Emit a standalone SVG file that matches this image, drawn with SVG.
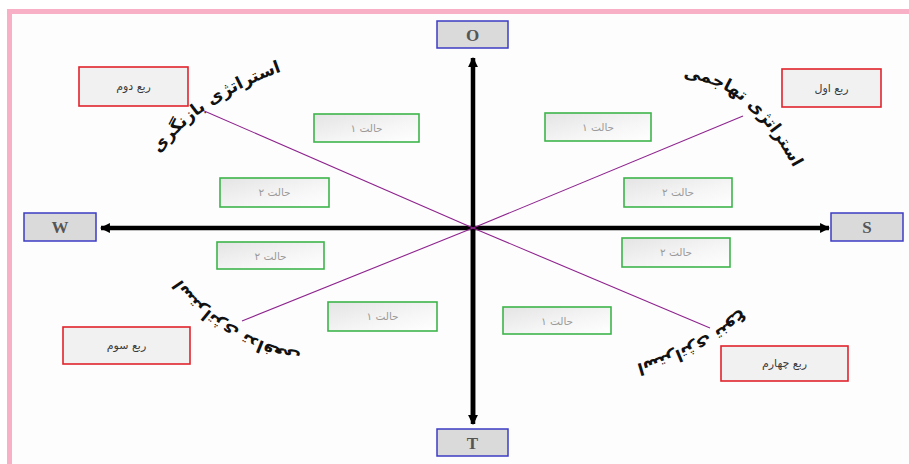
<svg xmlns="http://www.w3.org/2000/svg" width="909" height="464" viewBox="0 0 909 464">
<defs>
<style>
.ax{stroke:#000;stroke-width:4.5;fill:none}
.diag{stroke:#8e238e;stroke-width:1.1;fill:none}
.bb{fill:#dadada;stroke:#3b3bc4;stroke-width:1.5}
.bt{font-family:"Liberation Serif",serif;font-weight:bold;font-size:17px;fill:#555;text-anchor:middle}
.rb{fill:#f1f1f1;stroke:#e0232b;stroke-width:1.6}
.rt{font-family:"DejaVu Sans",sans-serif;font-size:11px;fill:#3a3a3a;text-anchor:middle;direction:rtl}
.gb{fill:url(#gg);stroke:#3db54a;stroke-width:1.6}
.gt{font-family:"DejaVu Sans",sans-serif;font-size:10.5px;fill:#9a9a9a;text-anchor:middle;direction:rtl}
.ct{font-family:"DejaVu Sans",sans-serif;font-size:17px;font-weight:bold;fill:#111;direction:rtl}
</style>
<linearGradient id="gg" x1="0" y1="0" x2="1" y2="1">
<stop offset="0" stop-color="#e4e4e4"/>
<stop offset="0.6" stop-color="#f6f6f6"/>
<stop offset="1" stop-color="#ffffff"/>
</linearGradient>
<marker id="ah" viewBox="0 0 10 10" refX="9" refY="5" markerWidth="2.2" markerHeight="2.2" orient="auto" markerUnits="strokeWidth">
<path d="M0,0 L10,5 L0,10 z" fill="#000"/>
</marker>
<path id="p2" d="M150,168 Q190,100 298,66"/>
<path id="p1" d="M674,76 C728,82 760,104 798,176"/>
<path id="p4" d="M770,280 Q724,348 596,374"/>
<path id="p3" d="M320,358 Q205,334 172,262"/>
</defs>
<rect x="0" y="0" width="909" height="464" fill="#ffffff"/>
<rect x="12" y="14" width="897" height="450" fill="#fdfdfd"/>
<rect x="7" y="9" width="902" height="5" fill="#f8b0c6"/>
<rect x="7" y="9" width="5" height="455" fill="#f8b0c6"/>

<g id="connectors">
<line class="ax" x1="473" y1="420" x2="473" y2="58" marker-end="url(#ah)"/>
<line class="ax" x1="473" y1="228" x2="473" y2="424" marker-end="url(#ah)"/>
<line class="ax" x1="473" y1="228" x2="101" y2="228" marker-end="url(#ah)"/>
<line class="ax" x1="473" y1="228" x2="829" y2="228" marker-end="url(#ah)"/>
<line class="diag" x1="473" y1="228" x2="202" y2="110"/>
<line class="diag" x1="473" y1="228" x2="743" y2="116"/>
<line class="diag" x1="473" y1="228" x2="242" y2="321"/>
<line class="diag" x1="473" y1="228" x2="710" y2="328"/>
</g>

<g id="node-O"><rect class="bb" x="437" y="21" width="71" height="27"/><text class="bt" x="472.5" y="41">O</text></g>
<g id="node-T"><rect class="bb" x="437" y="429" width="71" height="27"/><text class="bt" x="472.5" y="449">T</text></g>
<g id="node-W"><rect class="bb" x="24" y="213" width="72" height="28"/><text class="bt" x="60" y="233">W</text></g>
<g id="node-S"><rect class="bb" x="831" y="213" width="72" height="28"/><text class="bt" x="867" y="233">S</text></g>

<g id="node-q1"><rect class="rb" x="782" y="69" width="99" height="38"/><text class="rt" x="831.5" y="92">ربع اول</text></g>
<g id="node-q2"><rect class="rb" x="79" y="67" width="109" height="39"/><text class="rt" x="133.5" y="90">ربع دوم</text></g>
<g id="node-q3"><rect class="rb" x="63" y="327" width="127" height="37"/><text class="rt" x="126.5" y="349">ربع سوم</text></g>
<g id="node-q4"><rect class="rb" x="721" y="346" width="127" height="35"/><text class="rt" x="784.5" y="367">ربع چهارم</text></g>

<g id="node-h1-tl"><rect class="gb" x="314" y="114" width="105" height="28"/><text class="gt" x="366.5" y="132">حالت ۱</text></g>
<g id="node-h1-tr"><rect class="gb" x="545" y="113" width="106" height="28"/><text class="gt" x="598" y="131">حالت ۱</text></g>
<g id="node-h2-lu"><rect class="gb" x="220" y="178" width="109" height="29"/><text class="gt" x="274.5" y="196">حالت ۲</text></g>
<g id="node-h2-ll"><rect class="gb" x="217" y="242" width="107" height="27"/><text class="gt" x="270.5" y="260">حالت ۲</text></g>
<g id="node-h2-ru"><rect class="gb" x="624" y="178" width="108" height="29"/><text class="gt" x="678" y="196">حالت ۲</text></g>
<g id="node-h2-rl"><rect class="gb" x="622" y="238" width="108" height="29"/><text class="gt" x="676" y="256">حالت ۲</text></g>
<g id="node-h1-bl"><rect class="gb" x="328" y="302" width="109" height="29"/><text class="gt" x="382.5" y="320">حالت ۱</text></g>
<g id="node-h1-br"><rect class="gb" x="503" y="307" width="108" height="27"/><text class="gt" x="557" y="325">حالت ۱</text></g>

<g id="curved-labels">
<text class="ct"><textPath href="#p1" startOffset="50%" text-anchor="middle">استراتژی تهاجمی</textPath></text>
<text class="ct"><textPath href="#p2" startOffset="50%" text-anchor="middle">استراتژی بازنگری</textPath></text>
<text class="ct"><textPath href="#p3" startOffset="50%" text-anchor="middle">استراتژی تدافعی</textPath></text>
<text class="ct"><textPath href="#p4" startOffset="50%" text-anchor="middle">استراتژی تنوع</textPath></text>
</g>
</svg>
